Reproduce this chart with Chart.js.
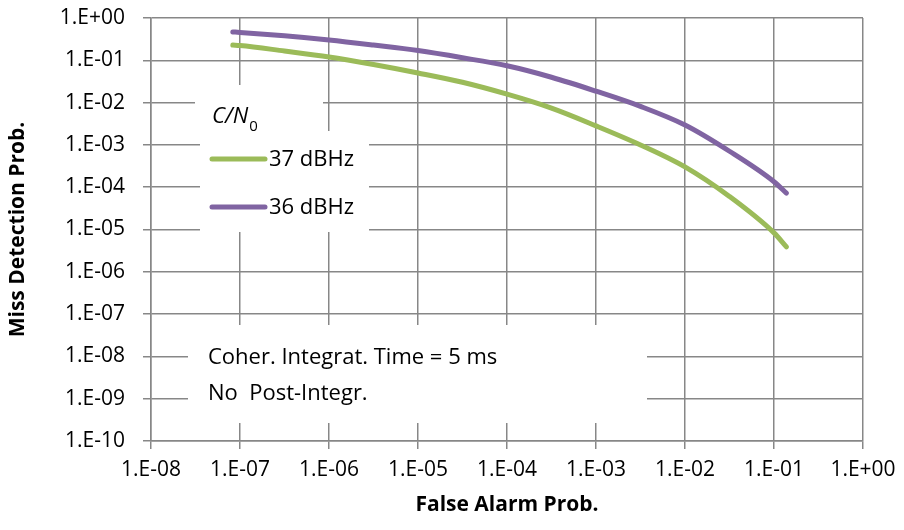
<!DOCTYPE html>
<html>
<head>
<meta charset="utf-8">
<script src="https://cdn.jsdelivr.net/npm/chart.js@4.4.0/dist/chart.umd.min.js"></script>
<style>
  html, body { margin: 0; padding: 0; background: #fff; }
  canvas { display: block; }
</style>
</head>
<body>
<canvas id="rocCanvas" width="904" height="530"></canvas>
<script>
// ---------- data ----------
const falseAlarm = [8.3e-8, 1e-7, 3.16e-7, 1e-6, 3.16e-6, 1e-5, 3.16e-5, 1e-4, 3.16e-4, 1e-3, 3.16e-3, 1e-2, 3.16e-2, 1e-1, 1.38e-1];
const miss37 = [0.229, 0.224, 0.166, 0.120, 0.0794, 0.0501, 0.0302, 0.0158, 0.00741, 0.00282, 0.00100, 3.02e-4, 6.03e-5, 8.32e-6, 3.89e-6];
const miss36 = [0.468, 0.457, 0.380, 0.302, 0.229, 0.170, 0.115, 0.0741, 0.0398, 0.0186, 0.00813, 0.00295, 7.08e-4, 1.35e-4, 7.24e-5];
const seriesLabels = ['37 dBHz', '36 dBHz'];
const seriesColors = ['#9BBB59', '#8064A2'];

const xTickVals = [1e-8, 1e-7, 1e-6, 1e-5, 1e-4, 1e-3, 1e-2, 1e-1, 1];
const xTickLabels = ['1.E-08', '1.E-07', '1.E-06', '1.E-05', '1.E-04', '1.E-03', '1.E-02', '1.E-01', '1.E+00'];
const yTickVals = [1e-10, 1e-9, 1e-8, 1e-7, 1e-6, 1e-5, 1e-4, 1e-3, 1e-2, 1e-1, 1];
const yTickLabels = ['1.E-10', '1.E-09', '1.E-08', '1.E-07', '1.E-06', '1.E-05', '1.E-04', '1.E-03', '1.E-02', '1.E-01', '1.E+00'];

const noteLines = ['Coher. Integrat. Time = 5 ms', 'No  Post-Integr.'];

const FONT = "'Open Sans', 'DejaVu Sans', sans-serif";
const GRID = '#878787';

function toPoints(ys) {
    return falseAlarm.map((x, i) => ({ x: x, y: ys[i] }));
}

// white text boxes over the grid, legend (C/N0) and the note, like the Excel original
const overlayPlugin = {
    id: 'overlay',
    beforeDatasetsDraw(chart) {
        const { ctx, chartArea: a } = chart;
        ctx.save();
        ctx.fillStyle = '#ffffff';
        ctx.fillRect(a.left + 44, a.top + 67, 128, 46);   // C/N0 title box
        ctx.fillRect(a.left + 49, a.top + 113, 169, 101); // legend box
        ctx.fillRect(a.left + 37, a.top + 307, 459, 98);  // note box
        ctx.restore();
    },
    afterDatasetsDraw(chart) {
        const { ctx, chartArea: a } = chart;
        ctx.save();
        ctx.fillStyle = '#000000';
        ctx.textAlign = 'left';
        ctx.textBaseline = 'alphabetic';

        // legend title C/N0
        ctx.font = 'italic 22px ' + FONT;
        let tx = a.left + 61;
        ctx.fillText('C/N', tx, a.top + 105);
        tx += ctx.measureText('C/N').width + 1;
        ctx.font = '15px ' + FONT;
        ctx.fillText('0', tx, a.top + 113);

        // legend entries
        chart.data.datasets.forEach((ds, i) => {
            const y = a.top + 141 + i * 48;
            ctx.strokeStyle = ds.borderColor;
            ctx.lineWidth = 5;
            ctx.lineCap = 'round';
            ctx.beginPath();
            ctx.moveTo(a.left + 61, y);
            ctx.lineTo(a.left + 114, y);
            ctx.stroke();
            ctx.font = '22px ' + FONT;
            ctx.textBaseline = 'middle';
            ctx.fillText(ds.label, a.left + 118, y + 1);
            ctx.textBaseline = 'alphabetic';
        });

        // note
        ctx.font = '22px ' + FONT;
        noteLines.forEach((line, i) => {
            ctx.fillText(line, a.left + 57, a.top + 346 + i * 36);
        });
        ctx.restore();
    }
};

const rocChart = new Chart(document.getElementById('rocCanvas'), {
    type: 'line',
    data: {
        datasets: [
            { label: seriesLabels[0], data: toPoints(miss37), borderColor: seriesColors[0], backgroundColor: seriesColors[0],
              borderWidth: 5, pointRadius: 0, cubicInterpolationMode: 'monotone', borderCapStyle: 'round', fill: false },
            { label: seriesLabels[1], data: toPoints(miss36), borderColor: seriesColors[1], backgroundColor: seriesColors[1],
              borderWidth: 5, pointRadius: 0, cubicInterpolationMode: 'monotone', borderCapStyle: 'round', fill: false }
        ]
    },
    options: {
        responsive: false,
        animation: false,
        layout: { padding: { top: 18, right: 41, bottom: 0, left: 0 } },
        plugins: { legend: { display: false }, tooltip: { enabled: false } },
        scales: {
            x: {
                type: 'logarithmic',
                min: 1e-8, max: 1,
                afterBuildTicks: (scale) => { scale.ticks = xTickVals.map(v => ({ value: v })); },
                afterFit: (scale) => { scale.height = 89; scale.paddingLeft = 0; scale.paddingRight = 0; },
                ticks: { callback: (v, i) => xTickLabels[i], color: '#000', font: { family: FONT, size: 21 },
                         padding: 8, autoSkip: false, maxRotation: 0 },
                grid: { color: GRID, lineWidth: 1.5, tickLength: 8, tickColor: GRID },
                border: { color: GRID, width: 1.5 },
                title: { display: true, text: 'False Alarm Prob.', color: '#000',
                         font: { family: FONT, size: 21, weight: 'bold' }, padding: { top: 4, bottom: 12 } }
            },
            y: {
                type: 'logarithmic',
                min: 1e-10, max: 1,
                afterBuildTicks: (scale) => { scale.ticks = yTickVals.map(v => ({ value: v })); },
                afterFit: (scale) => { scale.width = 151; scale.paddingTop = 0; scale.paddingBottom = 0; },
                ticks: { callback: (v, i) => yTickLabels[i], color: '#000', font: { family: FONT, size: 21 },
                         padding: 18, autoSkip: false },
                grid: { color: GRID, lineWidth: 1.5, tickLength: 8, tickColor: GRID },
                border: { color: GRID, width: 1.5 },
                title: { display: true, text: 'Miss Detection Prob.', color: '#000',
                         font: { family: FONT, size: 21, weight: 'bold' }, padding: { top: 5, bottom: 4 } }
            }
        }
    },
    plugins: [overlayPlugin]
});
</script>
</body>
</html>
